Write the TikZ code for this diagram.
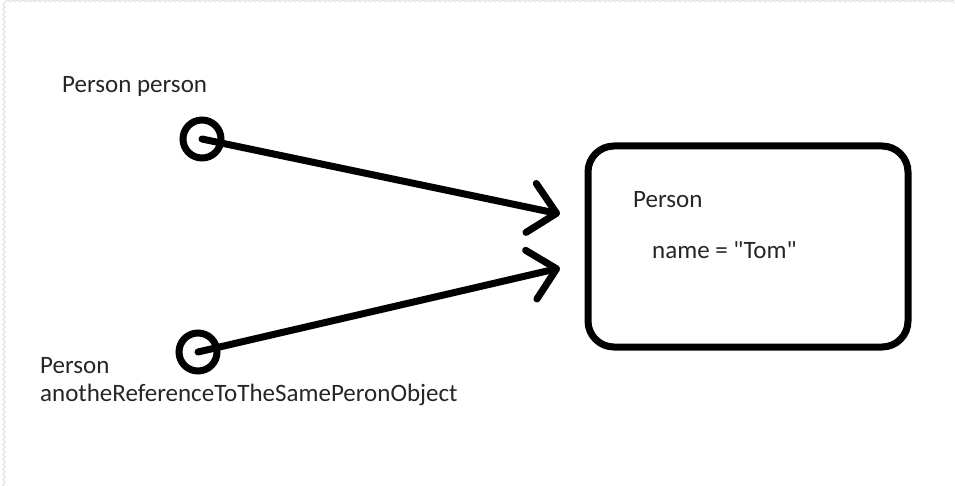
\documentclass[tikz,border=0pt]{standalone}
\usepackage{fontspec}
\setmainfont{Carlito}[Ligatures=TeXOff]
\usetikzlibrary{arrows.meta,decorations.pathmorphing}
\begin{document}
\begin{tikzpicture}[x=1pt,y=-1pt,
  lbl/.style={anchor=west,inner sep=0pt,font=\fontsize{25}{30}\selectfont,text=black!85},
  refcircle/.style={circle,draw=black,line width=7pt,minimum size=38pt,inner sep=0pt},
  objbox/.style={draw=black,line width=7pt,rounded corners=26pt},
  conn/.style={line width=7pt,line cap=round,line join=round,-{Straight Barb[length=26pt,width=50pt,line cap=round,line join=round]}},
  edge/.style={draw=black!14,line width=0.8pt,decorate,decoration={snake,amplitude=1.2pt,segment length=5pt}}
]
\useasboundingbox (0,0) rectangle (955,486);
\fill[white] (0,0) rectangle (955,486);
\draw[edge] (4,486) -- (4,3) -- (955,3);
% reference circles
\node[refcircle] (c1) at (202,139) {};
\node[refcircle] (c2) at (198,352) {};
% object box
\draw[objbox] (588,146) rectangle (908,347);
\node[lbl] (t1) at (633,200) {Person};
\node[lbl] (t2) at (652,250) {name = "Tom"};
% labels
\node[lbl] (l1) at (62,86) {Person person};
\node[lbl] (l2) at (40,366) {Person};
\node[lbl] (l3) at (40,395) {anotheReferenceToTheSamePeronObject};
% connector tips
\coordinate (tip1) at (560,214);
\coordinate (tip2) at (560,268);
\draw[conn] (c1.center) -- (tip1);
\draw[conn] (c2.center) -- (tip2);
\end{tikzpicture}
\end{document}
